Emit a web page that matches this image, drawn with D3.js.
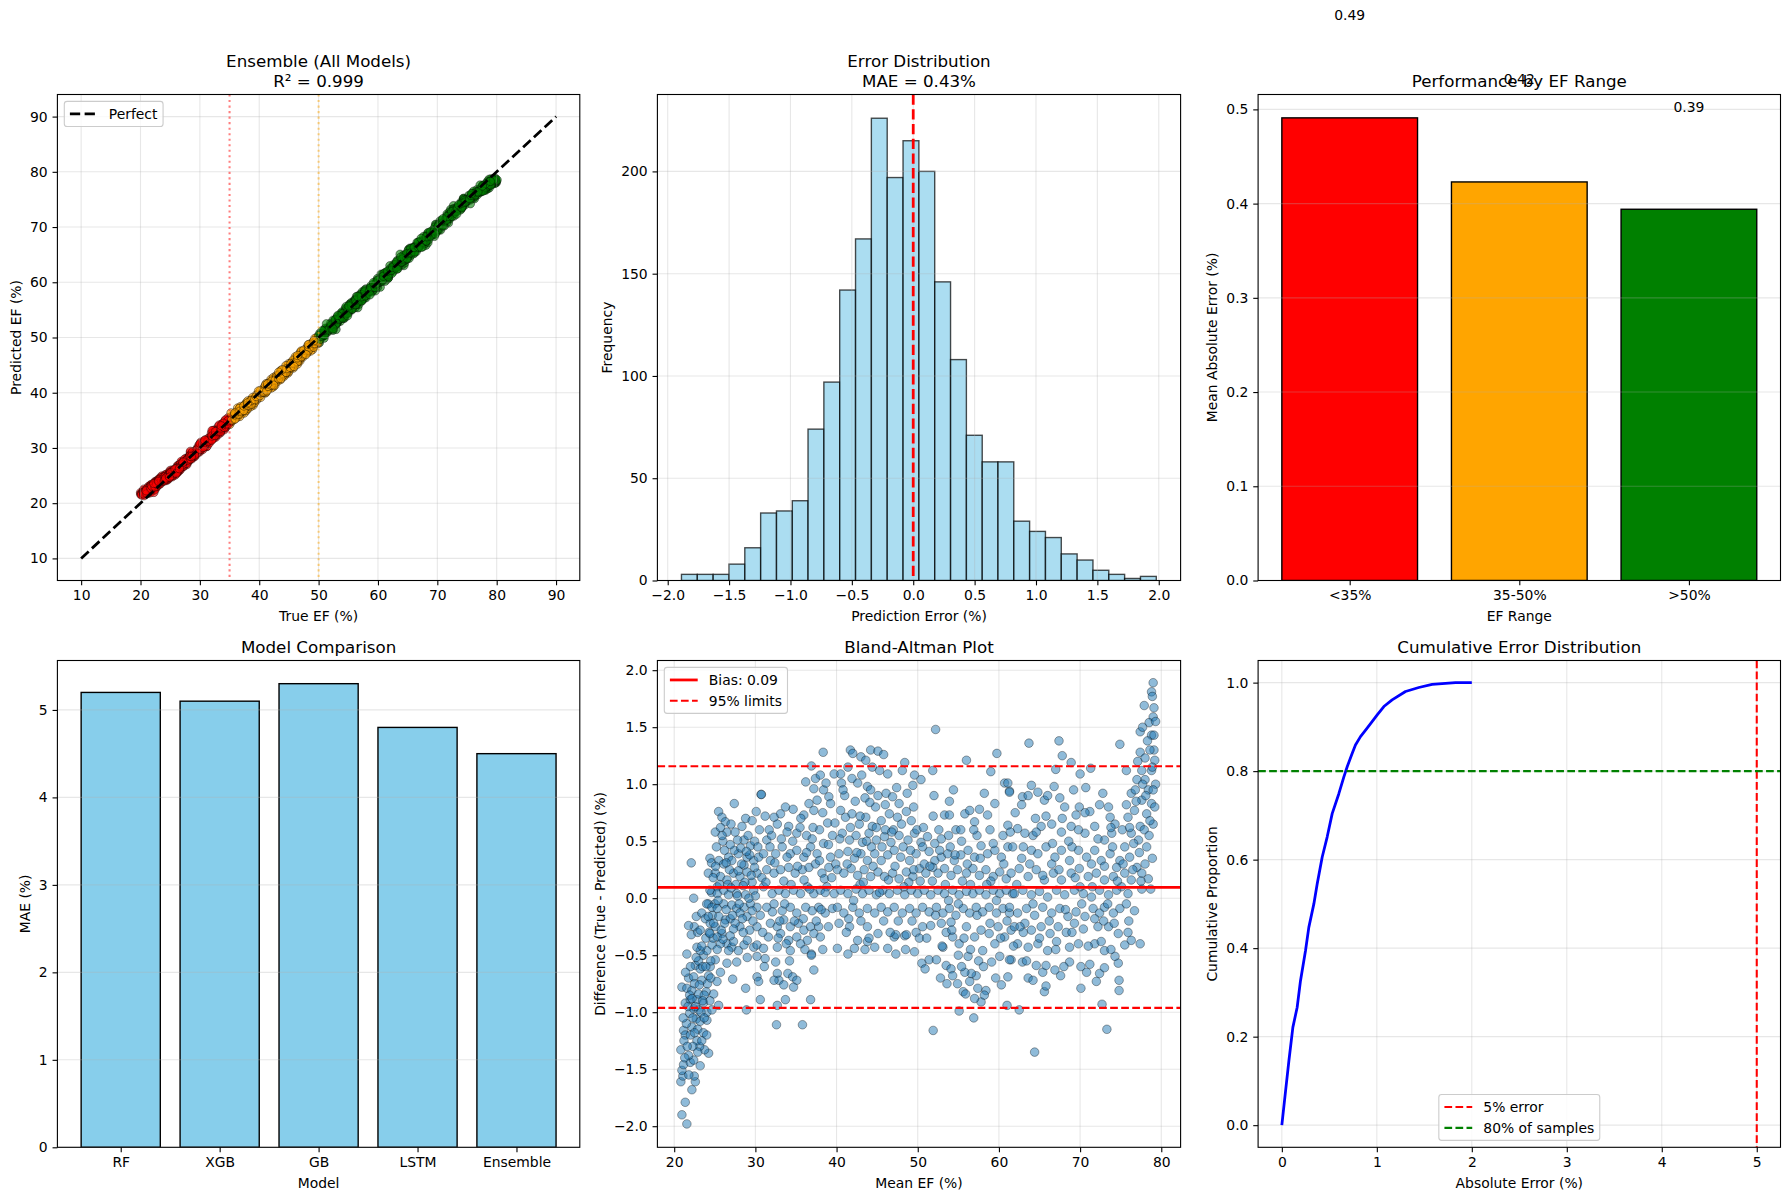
<!DOCTYPE html>
<html><head><meta charset="utf-8">
<script src="https://cdn.jsdelivr.net/npm/d3@7"></script>
<style>body{margin:0;background:#fff}svg{display:block}</style>
</head><body><svg id="c" width="1790" height="1199"></svg>
<script>
// ---------------- DATA ----------------
// Bland-Altman points: [mean EF, difference (true - predicted)]
const baPoints = [
[21.56,-1.98],[20.95,-1.90],[21.36,-1.79],[22.18,-1.68],[20.82,-1.61],[22.6,-1.61],[22.47,-1.56],[21.07,-1.56],[20.95,-1.51],[21.15,-1.46],[23.2,-1.47],[21.98,-1.44],[22.4,-1.42],[24.24,-1.36],[20.82,-1.33],[21.77,-1.38],[23.74,-1.33],[23.13,-1.30],[22.8,-1.25],[23.4,-1.25],[21.15,-1.16],[21.36,-1.20],[22.18,-1.13],[22.72,-1.06],[23.2,-1.08],[24.03,-1.07],[21.9,-1.01],[22.4,-0.97],[23.0,-0.98],[24.03,-1.0],[24.65,-0.98],[21.36,-0.92],[21.98,-0.89],[22.8,-0.89],[23.6,-0.92],[25.47,-0.94],[20.95,-0.78],[21.56,-0.79],[22.18,-0.81],[23.0,-0.84],[23.95,-0.82],[24.86,-0.84],[21.77,-0.70],[22.4,-0.69],[23.4,-0.72],[24.24,-0.68],[25.27,-0.73],[22.6,-0.59],[23.2,-0.62],[24.44,-0.60],[25.06,-0.54],[26.5,-0.57],[25.7,-0.65],[21.56,-0.49],[23.6,-0.50],[24.03,-0.46],[24.65,-0.41],[23.2,-0.46],[22.8,-0.43],[22.1,-0.32],[22.47,-0.25],[21.77,-0.24],[22.72,-0.16],[23.4,-0.13],[23.83,-0.18],[24.44,-0.22],[25.06,-0.25],[25.88,-0.31],[26.5,-0.40],[27.1,-0.43],[27.3,-0.38],[27.9,-0.46],[28.6,-0.41],[29.8,-0.43],[28.1,-0.25],[29.3,-0.28],[30.2,-0.25],[22.1,0.31],[22.4,0.0],
[21.2,-1.25],[21.5,-1.1],[21.7,-0.95],[22.0,-1.2],[22.3,-1.05],[22.6,-0.95],[22.9,-1.15],[23.3,-1.0],[23.7,-0.85],[24.1,-0.75],[24.4,-0.9],[22.0,-0.6],[22.5,-0.75],[23.0,-0.55],[23.5,-0.6],[23.9,-0.35],[24.3,-0.3],[24.7,-0.15],[25.0,-0.05],[24.6,0.05],[25.3,0.1],[22.9,-0.3],[23.2,-0.28],[21.9,-0.85],[21.3,-1.4],[21.8,-1.55],[22.3,-1.3],[23.6,-1.18],[24.0,-1.2],[24.5,-0.55],
[21.1,-1.05],[21.4,-0.65],[21.6,-1.3],[22.2,-0.88],[22.5,-1.18],[22.7,-0.52],[23.1,-0.76],[23.4,-0.42],[23.7,-1.05],[23.9,-0.6],[24.2,-0.05],[24.5,-0.7],[24.8,-0.35],[22.9,-1.35],[23.5,-0.9],
[25.47,0.76],[25.88,0.71],[26.3,0.67],[27.0,0.65],[27.4,0.83],[25.06,0.58],[26.5,0.58],[28.35,0.63],[28.8,0.70],[29.6,0.68],[30.1,0.76],[30.7,0.91],[28.6,0.51],[29.4,0.46],[27.8,0.51],[24.4,0.35],[24.6,0.31],[25.5,0.33],[26.1,0.30],[26.7,0.36],[27.1,0.33],[27.9,0.39],[28.97,0.36],[28.6,0.29],[29.8,0.33],[30.4,0.36],[24.2,0.22],[25.06,0.22],[25.7,0.19],[26.5,0.16],[27.3,0.22],[28.1,0.19],[28.97,0.23],[29.6,0.14],[30.2,0.22],[24.4,0.07],[25.3,0.04],[26.1,0.07],[26.7,0.03],[27.7,0.04],[28.8,0.03],[29.8,0.07],[24.0,-0.05],[24.65,-0.08],[25.3,-0.09],[26.1,-0.05],[27.1,-0.06],[27.7,-0.09],[28.6,-0.08],[29.4,-0.05],[30.2,-0.08],[24.2,-0.16],[24.86,-0.22],[25.5,-0.16],[26.3,-0.19],[26.9,-0.18],[27.5,-0.22],[28.97,-0.16],[28.1,-0.13],[24.4,-0.31],[25.3,-0.34],[25.7,-0.40],[26.7,-0.46],[29.0,-0.37],[30.2,-0.41],[31.0,-0.44],[28.8,-0.79],[28.9,-0.98],[27.2,-0.71],[27.7,-0.56],[30.2,-0.51],[30.6,-0.89],
[25.2,0.45],[26.0,0.5],[26.8,0.25],[27.6,0.12],[28.3,0.3],[29.1,0.55],[29.9,0.5],[25.8,-0.28],[26.4,-0.1],[27.4,0.42],[28.5,-0.3],[29.5,0.2],[30.0,0.02],[26.2,0.42],[27.9,0.24],[29.2,0.0],[25.6,0.12],[28.0,-0.05],[26.9,-0.33],[29.7,-0.2],
[25.1,0.28],[25.4,-0.02],[25.9,0.55],[26.2,-0.22],[26.6,0.12],[26.9,0.47],[27.2,-0.15],[27.5,0.58],[27.8,0.02],[28.2,0.44],[28.4,-0.18],[28.7,0.14],[29.0,-0.52],[29.3,0.38],[29.6,-0.11],[29.9,0.27],[25.3,-0.45],[26.0,-0.36],[27.0,0.09],[28.9,0.41],[24.8,0.18],[25.7,0.62],[26.4,0.31],[27.3,-0.27],[28.5,0.11],
[30.74,0.91],[33.1,0.74],[32.3,0.71],[31.4,0.51],[32.7,0.65],[33.7,0.80],[34.1,0.63],[34.65,0.78],[35.1,0.57],[35.97,0.73],[36.6,0.83],[37.2,0.77],[38.35,1.28],[36.9,1.16],[37.4,1.05],[38.0,1.08],[36.2,1.02],[38.4,0.95],[39.05,0.89],[39.26,0.83],[39.7,1.09],[37.2,0.96],[38.7,1.01],[37.6,0.86],
[31.0,0.39],[31.85,0.33],[32.5,0.39],[33.3,0.45],[34.3,0.39],[35.1,0.42],[35.97,0.36],[36.8,0.45],[37.6,0.39],[38.4,0.48],[39.26,0.36],[31.4,0.25],[32.3,0.22],[33.1,0.25],[34.1,0.27],[34.9,0.22],[35.8,0.25],[36.6,0.27],[37.4,0.30],[38.2,0.22],[39.05,0.27],[39.9,0.30],[31.0,0.10],[32.06,0.04],[32.9,0.07],[33.7,0.04],[34.7,0.07],[35.56,0.04],[36.4,0.10],[37.2,0.04],[38.0,0.07],[38.8,0.10],[39.7,0.04],[31.4,-0.08],[32.3,-0.05],[33.3,-0.11],[34.3,-0.08],[35.1,-0.13],[36.2,-0.08],[37.0,-0.11],[37.8,-0.08],[38.6,-0.13],[39.5,-0.09],[31.85,-0.22],[32.7,-0.25],[33.5,-0.19],[34.3,-0.25],[35.3,-0.22],[35.97,-0.28],[36.8,-0.25],[37.8,-0.25],[31.6,-0.34],[33.1,-0.31],[34.1,-0.37],[35.1,-0.34],[36.4,-0.37],[37.2,-0.31],[38.0,-0.34],[32.7,-0.43],[34.3,-0.46],[35.56,-0.40],[36.9,-0.49],
[32.5,-0.56],[32.7,-0.66],[32.9,-0.72],[32.3,-0.72],[33.5,-0.76],[34.0,-0.66],[34.6,-0.69],[35.1,-0.72],[34.7,-0.78],[33.7,-0.89],[32.7,-0.94],[32.6,-1.11],[35.8,-1.11],[30.2,-0.69],[30.4,-0.73],[31.2,-0.53],[36.8,-0.89],[37.2,-0.63],[36.9,-0.50],
[30.5,0.6],[31.2,0.72],[32.0,0.55],[33.9,0.58],[35.5,0.62],[36.3,0.55],[37.9,0.6],[38.9,0.66],[39.5,0.55],[30.8,0.18],[33.5,0.15],[36.0,0.16],[38.5,0.17],[31.8,0.45],[34.6,0.5],[37.0,0.52],[39.0,-0.25],[38.3,-0.45],[30.6,-0.15],[33.0,-0.2],
[30.3,0.45],[30.9,-0.3],[31.3,0.14],[31.7,0.6],[32.1,-0.12],[32.4,0.31],[32.8,-0.35],[33.2,0.52],[33.6,-0.05],[33.9,0.36],[34.4,0.12],[34.8,-0.2],[35.2,0.28],[35.6,0.7],[35.9,-0.18],[36.3,0.4],[36.7,0.08],[37.1,0.62],[37.5,-0.2],[37.9,0.33],[38.3,0.75],[38.6,0.05],[39.0,0.47],[39.4,0.18],[39.8,0.66],[34.2,-0.55],[36.1,-0.45],[38.1,-0.1],[31.1,-0.6],[33.8,-0.4],
[52.2,1.48],[41.7,1.30],[42.0,1.27],[43.0,1.24],[44.2,1.30],[45.1,1.29],[45.8,1.26],[43.6,1.21],[44.4,1.15],[41.4,1.15],[40.5,1.09],[40.6,1.01],[42.6,1.01],[43.8,0.98],[44.2,0.95],[48.4,1.19],[48.1,1.12],[49.6,1.08],[50.4,1.04],[49.4,0.99],[51.85,1.12],[56.0,1.21],[59.75,1.27],[59.0,1.11],[60.7,1.01],[61.3,0.94],[46.3,1.09],[45.1,0.90],[46.1,0.92],[46.9,0.89],[47.7,0.83],[53.9,0.85],[53.3,0.73],[53.9,0.73],[55.8,0.74],[56.4,0.77],[57.6,0.78],[58.6,0.73],[57.0,0.67],[59.5,0.83],[61.1,0.64],[54.7,0.60],[55.3,0.60],
[40.5,0.77],[41.1,0.71],[41.9,0.74],[42.8,0.65],[43.6,0.71],[44.4,0.63],[45.5,0.68],[46.5,0.74],[47.5,0.71],[48.6,0.76],[49.2,0.68],[40.7,0.57],[41.6,0.51],[42.4,0.55],[43.2,0.49],[44.0,0.57],[44.9,0.51],[45.9,0.54],[46.7,0.49],[47.7,0.55],[48.8,0.51],[49.6,0.57],[50.4,0.49],[51.2,0.54],[52.1,0.48],[52.9,0.52],
[40.3,0.39],[41.4,0.41],[42.2,0.35],[43.0,0.39],[43.8,0.33],[44.7,0.39],[45.5,0.33],[46.3,0.38],[47.1,0.42],[47.9,0.36],[49.0,0.33],[49.8,0.39],[50.6,0.45],[51.4,0.41],[52.1,0.33],[52.9,0.36],[53.7,0.39],[54.5,0.33],[55.3,0.38],[56.2,0.42],[57.0,0.36],[57.8,0.46],[58.6,0.39],[59.5,0.42],[60.3,0.36],[61.1,0.45],
[40.1,0.25],[40.9,0.22],[41.8,0.26],[42.6,0.20],[43.4,0.25],[44.2,0.19],[45.1,0.23],[45.9,0.19],[46.9,0.22],[47.7,0.17],[48.6,0.23],[49.4,0.19],[50.2,0.26],[51.0,0.22],[51.85,0.27],[52.5,0.22],[53.3,0.26],[54.1,0.20],[54.9,0.25],[56.0,0.22],[56.8,0.26],[57.6,0.20],[58.4,0.25],[59.3,0.19],[60.1,0.23],[60.9,0.17],
[40.5,0.07],[41.4,0.04],[42.4,0.08],[43.2,0.04],[44.0,0.07],[44.9,0.03],[45.7,0.07],[46.5,0.04],[47.5,0.07],[48.4,0.03],[49.2,0.07],[50.0,0.04],[50.8,0.07],[51.6,0.03],[52.5,0.07],[53.3,0.04],[54.3,0.07],[55.1,0.03],[56.0,0.06],[56.8,0.04],[57.6,0.07],[58.4,0.03],[59.3,0.07],[60.1,0.04],[60.9,0.07],[61.7,0.04],
[40.1,-0.08],[40.9,-0.13],[42.0,-0.08],[42.8,-0.13],[43.8,-0.09],[44.7,-0.13],[45.5,-0.08],[46.3,-0.12],[47.1,-0.08],[48.1,-0.13],[49.0,-0.09],[49.8,-0.13],[50.6,-0.08],[51.4,-0.12],[52.3,-0.08],[53.1,-0.13],[53.9,-0.09],[54.7,-0.15],[55.6,-0.09],[56.4,-0.13],[57.2,-0.08],[58.0,-0.12],[58.8,-0.08],[59.7,-0.13],[60.5,-0.09],[61.3,-0.13],
[40.3,-0.22],[41.6,-0.25],[43.8,-0.25],[45.1,-0.31],[47.1,-0.34],[47.3,-0.32],[48.4,-0.33],[49.8,-0.30],[50.6,-0.25],[51.6,-0.24],[52.9,-0.22],[54.1,-0.21],[54.3,-0.34],[55.1,-0.40],[56.0,-0.25],[57.0,-0.34],[57.8,-0.28],[58.8,-0.31],[59.9,-0.25],[60.7,-0.34],[61.5,-0.28],
[40.1,-0.44],[42.2,-0.44],[44.7,-0.43],[46.3,-0.44],[47.3,-0.49],[41.4,-0.49],[42.6,-0.37],[43.8,-0.38],[48.6,-0.32],
[49.6,-0.47],[50.5,-0.57],[51.4,-0.54],[52.3,-0.54],[53.1,-0.43],[53.5,-0.59],[54.1,-0.62],[54.3,-0.68],[54.9,-0.75],[55.6,-0.82],[55.9,-0.84],[55.1,-0.99],[56.9,-1.05],[51.9,-1.16],[52.8,-0.70],[56.4,-0.73],[57.2,-0.68],[57.4,-0.79],[57.8,-0.91],[58.4,-0.81],[58.2,-0.85],[60.3,-0.76],[61.0,-0.94],[61.1,-0.69],[58.0,-0.46],[59.1,-0.56],[60.1,-0.51],[61.5,-0.54],[56.2,-0.51],[56.6,-0.66],[55.8,-0.65],
[41.0,0.9],[42.3,0.85],[43.5,0.88],[44.8,0.8],[47.0,0.6],[48.2,0.45],[49.5,0.8],[50.8,0.3],[52.6,0.6],[54.0,0.45],[55.5,0.15],[57.3,0.55],[58.9,0.6],[60.5,0.55],[41.2,-0.3],[43.0,-0.2],[45.8,-0.2],[50.2,-0.35],[53.5,-0.3],[55.0,-0.5],[57.5,-0.55],[59.5,-0.4],[46.0,0.6],[44.3,0.45],[51.8,0.15],[53.8,-0.02],[56.5,0.12],[59.0,0.15],[42.9,0.12],[48.9,0.14],
[40.4,0.52],[40.8,0.95],[41.3,0.3],[41.7,0.62],[42.1,-0.02],[42.5,0.4],[42.9,0.72],[43.3,0.14],[43.7,0.5],[44.1,0.84],[44.5,0.28],[44.9,0.62],[45.3,0.05],[45.6,0.45],[46.0,0.82],[46.4,0.16],[46.8,0.58],[47.2,0.28],[47.6,-0.2],[48.0,0.65],[48.3,0.1],[48.7,0.92],[49.1,0.42],[49.5,0.25],[49.9,0.6],[41.9,1.05],[43.1,1.08],[45.3,1.12],[47.4,0.97],[44.0,-0.35],[46.6,-0.3],[48.5,-0.45],[41.5,-0.18],[43.5,-0.45],[49.3,-0.2],
[50.3,0.15],[50.7,0.62],[51.1,-0.35],[51.5,0.28],[51.9,0.72],[52.2,-0.15],[52.7,0.42],[53.0,-0.42],[53.4,0.12],[53.8,0.55],[54.2,-0.28],[54.6,0.38],[55.0,-0.05],[55.4,0.5],[55.7,-0.35],[56.1,0.3],[56.5,-0.45],[56.9,0.6],[57.3,-0.15],[57.7,0.35],[58.1,-0.6],[58.5,0.12],[58.9,-0.22],[59.3,0.48],[59.7,-0.02],[50.9,-0.62],[53.6,-0.75],[55.4,-0.6],[57.0,-0.88],[59.6,-0.7],[52.0,0.9],[54.4,0.95],[58.2,0.92],
[79.0,1.89],[78.8,1.81],[78.9,1.77],[79.1,1.67],[77.9,1.69],[79.0,1.59],[78.5,1.54],[77.4,1.46],[77.7,1.50],[78.8,1.43],[79.1,1.43],[74.9,1.35],[67.4,1.38],[63.7,1.36],[67.8,1.25],[68.9,1.19],[67.0,1.13],[71.3,1.14],[70.0,1.09],[70.7,0.97],[77.4,1.28],[78.0,1.23],[79.2,1.21],[79.1,1.30],[77.6,1.12],[78.8,1.12],[75.7,1.12],[78.0,1.04],[77.0,1.04],[78.4,0.95],[76.3,0.92],[77.6,0.86],[78.8,0.83],[75.7,0.82],[76.7,0.77],[78.2,0.74],[79.0,0.65],[75.9,0.71],[77.4,0.63],[76.3,0.57],[77.2,0.51],[78.2,0.45],[75.5,0.45],[74.9,0.33],[76.1,0.36],[77.0,0.27],[77.6,0.22],[78.4,0.17],[78.7,0.08],[77.6,0.08],[76.3,0.16],[75.5,0.22],[75.1,0.10],[75.9,0.04],[76.7,-0.11],[77.4,-0.40],[76.3,-0.37],[75.5,-0.41],[74.8,-0.72],[74.8,-0.81],[73.3,-1.15],[72.7,-0.93],[64.4,-1.35],[62.5,-0.98],[70.1,-0.79],[70.1,-0.60],[70.8,-0.65],[72.0,-0.73],[72.4,-0.66],[73.0,-0.61],[74.3,-0.51],[74.7,-0.57],[65.6,-0.82],[65.8,-0.77],[63.6,-0.70],
[61.1,1.01],[61.3,0.93],[62.9,0.89],[63.6,0.90],[64.0,0.99],[64.8,0.93],[65.6,0.86],[67.5,0.88],[68.1,0.80],[69.5,0.73],[69.9,0.80],[71.2,0.76],[72.4,0.82],[73.7,0.71],[74.3,0.65],[62.3,0.61],[63.2,0.57],[64.2,0.55],[65.2,0.63],[66.5,0.65],[67.7,0.58],[68.9,0.63],[70.6,0.57],[71.8,0.63],[73.0,0.51],[73.9,0.57],[61.7,0.45],[62.8,0.35],[64.0,0.42],[64.8,0.39],[65.8,0.45],[66.9,0.36],[67.7,0.42],[68.7,0.33],[69.8,0.42],[70.8,0.36],[71.8,0.42],[72.6,0.33],[73.7,0.39],[74.5,0.27],[61.5,0.22],[62.5,0.26],[63.6,0.19],[64.6,0.25],[65.6,0.16],[66.7,0.22],[67.7,0.16],[68.9,0.22],[69.9,0.26],[71.0,0.19],[72.0,0.22],[73.0,0.16],[74.1,0.19],[61.9,0.04],[62.95,0.07],[64.0,0.03],[65.0,0.06],[66.0,0.01],[67.1,0.07],[68.1,0.03],[69.3,0.07],[70.4,0.04],[71.4,0.01],[72.4,0.07],[73.5,0.03],[74.5,0.07],[61.3,-0.08],[62.3,-0.13],[63.4,-0.09],[64.4,-0.15],[65.4,-0.08],[66.5,-0.13],[67.5,-0.09],[68.5,-0.16],[69.5,-0.12],[70.6,-0.16],[71.6,-0.09],[72.4,-0.13],[73.0,-0.08],[74.1,-0.13],[74.9,-0.09],[61.9,-0.25],[63.2,-0.22],[64.0,-0.28],[65.2,-0.25],[66.3,-0.31],[67.3,-0.25],[68.3,-0.30],[69.3,-0.22],[70.4,-0.27],[72.2,-0.25],[73.5,-0.25],[74.7,-0.31],[62.3,-0.40],[63.6,-0.43],[64.8,-0.40],[66.0,-0.46],[67.1,-0.38],[68.7,-0.43],[71.8,-0.40],[73.0,-0.46],[61.3,-0.54],[62.9,-0.56],[64.6,-0.59],[65.4,-0.65],[65.8,-0.59],[66.9,-0.63],[68.7,-0.56],
[76.8,0.95],[77.9,0.6],[78.6,1.3],[79.3,1.0],[78.9,0.35],[76.0,-0.2],[75.2,0.6],[62.0,0.75],[66.0,0.9],[69.0,0.45],[71.5,0.1],[73.5,0.8],[63.0,-0.3],[69.8,-0.4],[72.9,-0.2],[66.5,0.3],[70.0,0.1],[64.5,0.7],[68.0,-0.6],[74.0,0.45],
[60.2,-0.35],[60.6,0.3],[61.0,-0.2],[61.4,0.58],[61.8,-0.42],[62.2,0.12],[62.6,-0.25],[63.0,0.45],[63.4,-0.55],[63.8,0.3],[64.2,-0.05],[64.6,0.58],[65.0,-0.35],[65.4,0.2],[65.8,0.72],[66.2,-0.2],[66.6,0.48],[67.0,-0.45],[67.4,0.25],[67.8,0.7],[68.2,-0.1],[68.6,0.5],[69.0,-0.3],[69.4,0.18],[69.8,0.6],[70.2,-0.05],[70.6,0.75],[71.0,-0.42],[71.4,0.3],[71.8,-0.18],[72.2,0.52],[72.6,-0.38],[73.0,0.28],[73.4,-0.05],[73.8,0.62],[74.2,-0.22],[74.6,0.15],[62.8,0.82],[66.8,0.98],[69.2,0.95],[72.8,0.92],[64.2,-0.72],[67.6,-0.68],[71.2,-0.58],[73.8,-0.45],
[75.3,0.3],[75.7,-0.05],[76.1,0.62],[76.5,0.25],[76.9,0.85],[77.3,0.4],[77.7,1.0],[78.1,0.9],[78.5,0.55],[78.9,1.15],[79.2,0.8],[79.3,1.55],[78.3,1.38],[77.1,1.2],[76.6,0.48],[75.9,-0.3],[78.0,0.3],[79.0,0.95],[78.6,0.68],[77.5,0.15]
];
const perfectLine = [10, 90];
const efThresholds = [35, 50];
const efThresholdColors = ['red', 'orange'];
const efTicks = [10,20,30,40,50,60,70,80,90];

const histEdges = [-1.888,-1.759,-1.630,-1.501,-1.372,-1.243,-1.114,-0.985,-0.857,-0.728,-0.599,-0.470,-0.341,-0.212,-0.083,0.046,0.175,0.304,0.433,0.562,0.690,0.819,0.948,1.077,1.206,1.335,1.464,1.593,1.722,1.851,1.980];
const histCounts = [3,3,3,8,16,33,34,39,74,97,142,167,226,197,215,200,146,108,71,58,58,29,24,21,13,10,5,3,1,2];
const histXTicks = [-2,-1.5,-1,-0.5,0,0.5,1,1.5,2];
const histYTicks = [0,50,100,150,200];

const efRanges = ['<35%','35-50%','>50%'];
const efRangeMAE = [0.491,0.423,0.394];
const efRangeColors = ['red','orange','green'];
const rangeYTicks = [0,0.1,0.2,0.3,0.4,0.5];

const models = ['RF','XGB','GB','LSTM','Ensemble'];
const modelMAE = [5.2,5.1,5.3,4.8,4.5];
const maeTicks = [0,1,2,3,4,5];

const baBias = 0.094, baUpper = 1.158, baLower = -0.962;
const baXTicks = [20,30,40,50,60,70,80];
const baYTicks = [-2,-1.5,-1,-0.5,0,0.5,1,1.5,2];

const cdfX = [0,0.039,0.074,0.116,0.161,0.196,0.249,0.284,0.337,0.372,0.425,0.477,0.53,0.6,0.653,0.688,0.74,0.775,0.828,0.898,1.004,1.074,1.161,1.302,1.442,1.582,1.828,2.0];
const cdfY = [0,0.077,0.145,0.221,0.266,0.326,0.394,0.447,0.5,0.545,0.606,0.651,0.704,0.749,0.787,0.81,0.84,0.859,0.878,0.897,0.927,0.946,0.961,0.98,0.989,0.996,1.0,1.0];
const cdfXTicks = [0,1,2,3,4,5];
const cdfYTicks = [0,0.2,0.4,0.6,0.8,1.0];
const errorThreshold = 5, sampleThreshold = 0.8;

// ---------------- LAYOUT ----------------
const FONT = 'DejaVu Sans', FS = 13.9, TFS = 16.7;
const COLS = [[57.4,579.8],[657.4,1180.6],[1258.1,1780.5]];
const ROWS = [[94.5,580.5],[660.5,1147.3]];
const svg = d3.select('#c').attr('font-family', FONT);
const defs = svg.append('defs');
let clipN = 0;
const PT = 1.389;
const dash = lw => `${3.7*lw*PT},${1.6*lw*PT}`;
const dot = lw => `${1*lw*PT},${1.65*lw*PT}`;

function panel(col,row,o){
  const [x0,x1]=COLS[col],[y0,y1]=ROWS[row];
  const x=d3.scaleLinear().domain(o.xd).range([x0,x1]);
  const y=d3.scaleLinear().domain(o.yd).range([y1,y0]);
  const id='clip'+(clipN++);
  defs.append('clipPath').attr('id',id).append('rect').attr('x',x0).attr('y',y0).attr('width',x1-x0).attr('height',y1-y0);
  const g=svg.append('g');
  const dataL=g.append('g').attr('clip-path',`url(#${id})`);
  const gridL=g.append('g');
  const lineL=g.append('g').attr('clip-path',`url(#${id})`);
  if(o.gridX!==false) o.xt.forEach(v=>gridL.append('line').attr('x1',x(v)).attr('x2',x(v)).attr('y1',y0).attr('y2',y1));
  o.yt.forEach(v=>gridL.append('line').attr('x1',x0).attr('x2',x1).attr('y1',y(v)).attr('y2',y(v)));
  gridL.selectAll('line').attr('stroke','#b0b0b0').attr('stroke-opacity',0.3).attr('stroke-width',1.1);
  const top=g.append('g');
  top.append('rect').attr('x',x0).attr('y',y0).attr('width',x1-x0).attr('height',y1-y0)
    .attr('fill','none').attr('stroke','#000').attr('stroke-width',1.1);
  const ax=top.append('g').attr('transform',`translate(0,${y1})`)
    .call(d3.axisBottom(x).tickValues(o.xt).tickFormat(o.xf).tickSize(4.86).tickPadding(4.86));
  const ay=top.append('g').attr('transform',`translate(${x0},0)`)
    .call(d3.axisLeft(y).tickValues(o.yt).tickFormat(o.yf).tickSize(4.86).tickPadding(4.86));
  [ax,ay].forEach(a=>{
    a.select('.domain').remove();
    a.attr('font-family',FONT).attr('font-size',FS);
    a.selectAll('line').attr('stroke','#000').attr('stroke-width',1.1);
    a.selectAll('text').attr('fill','#000');
  });
  let maxW=0; ay.selectAll('text').each(function(){maxW=Math.max(maxW,this.getComputedTextLength());});
  top.append('text').attr('x',(x0+x1)/2).attr('y',y1+35.5).attr('dy','0.35em')
    .attr('text-anchor','middle').attr('font-size',FS).text(o.xlabel);
  top.append('text').attr('transform',`translate(${x0-maxW-23.5},${(y0+y1)/2}) rotate(-90)`)
    .attr('dy','0.35em').attr('text-anchor','middle').attr('font-size',FS).text(o.ylabel);
  o.title.forEach((t,i,a)=>top.append('text').attr('x',(x0+x1)/2).attr('y',y0-7.5-(a.length-1-i)*20.5)
    .attr('text-anchor','middle').attr('font-size',TFS).text(t));
  return {x,y,dataL,lineL,top,x0,x1,y0,y1};
}

function legend(p,items,pos){
  const g=p.top.append('g');
  const rowH=20.85, pad=5.6;
  const h=2*pad+items.length*FS+(items.length-1)*6.95;
  const texts=[];
  const tg=g.append('g');
  items.forEach((it,i)=>{
    const t=tg.append('text').attr('font-size',FS).attr('dy','0.35em').text(it.label);
    texts.push(t);
  });
  let tw=0; texts.forEach(t=>tw=Math.max(tw,t.node().getComputedTextLength()));
  const w=44.5+tw+pad;
  let bx,by;
  if(pos==='ul'){bx=p.x0+6.9;by=p.y0+6.9;}
  else {bx=(p.x0+p.x1)/2-w/2;by=p.y1-6.9-h;}
  g.insert('rect',':first-child').attr('x',bx).attr('y',by).attr('width',w).attr('height',h).attr('rx',2.8)
    .attr('fill','#fff').attr('fill-opacity',0.8).attr('stroke','#cccccc').attr('stroke-width',1.1);
  items.forEach((it,i)=>{
    const cy=by+pad+FS/2+i*rowH;
    g.append('line').attr('x1',bx+pad).attr('x2',bx+pad+27.8).attr('y1',cy).attr('y2',cy)
      .attr('stroke',it.color).attr('stroke-width',it.lw*PT).attr('stroke-dasharray',it.dash||null);
    texts[i].attr('x',bx+44.5).attr('y',cy);
  });
}

// ---------- Panel 1: Predicted vs True ----------
{
  const p=panel(0,0,{xd:[6,94],yd:[6,94],xt:efTicks,yt:efTicks,xf:d3.format('d'),yf:d3.format('d'),
    xlabel:'True EF (%)',ylabel:'Predicted EF (%)',title:['Ensemble (All Models)','R\u00b2 = 0.999']});
  const pts=baPoints.map(([m,d])=>({t:m+d/2,p:m-d/2}));
  const col=t=>t<efThresholds[0]?efRangeColors[0]:(t<efThresholds[1]?efRangeColors[1]:efRangeColors[2]);
  p.dataL.selectAll('circle').data(pts).join('circle')
    .attr('cx',d=>p.x(d.t)).attr('cy',d=>p.y(d.p)).attr('r',4.2)
    .attr('fill',d=>col(d.t)).attr('fill-opacity',0.6)
    .attr('stroke','#000').attr('stroke-opacity',0.6).attr('stroke-width',0.69);
  efThresholds.forEach((v,i)=>p.lineL.append('line').attr('x1',p.x(v)).attr('x2',p.x(v)).attr('y1',p.y0).attr('y2',p.y1)
    .attr('stroke',efThresholdColors[i]).attr('stroke-opacity',0.5).attr('stroke-width',1.5*PT).attr('stroke-dasharray',dot(1.5)));
  p.lineL.append('path').attr('d',d3.line().x(v=>p.x(v)).y(v=>p.y(v))(perfectLine))
    .attr('stroke','#000').attr('stroke-width',2*PT).attr('fill','none').attr('stroke-dasharray',dash(2));
  legend(p,[{label:'Perfect',color:'#000',lw:2,dash:dash(2)}],'ul');
}

// ---------- Panel 2: Error histogram ----------
{
  const p=panel(1,0,{xd:[-2.084,2.178],yd:[0,237.6],xt:histXTicks,yt:histYTicks,xf:d3.format('.1f'),yf:d3.format('d'),
    xlabel:'Prediction Error (%)',ylabel:'Frequency',title:['Error Distribution','MAE = 0.43%']});
  p.dataL.selectAll('rect').data(histCounts).join('rect')
    .attr('x',(d,i)=>p.x(histEdges[i])).attr('width',(d,i)=>p.x(histEdges[i+1])-p.x(histEdges[i]))
    .attr('y',d=>p.y(d)).attr('height',d=>p.y(0)-p.y(d))
    .attr('fill','#87ceeb').attr('fill-opacity',0.7).attr('stroke','#000').attr('stroke-opacity',0.7).attr('stroke-width',1.39);
  p.lineL.append('line').attr('x1',p.x(0)).attr('x2',p.x(0)).attr('y1',p.y0).attr('y2',p.y1)
    .attr('stroke','red').attr('stroke-width',2*PT).attr('stroke-dasharray',dash(2));
}

// ---------- Panel 3: Performance by EF range ----------
{
  const p=panel(2,0,{xd:[-0.54,2.54],yd:[0,0.5158],xt:[0,1,2],yt:rangeYTicks,xf:i=>efRanges[i],yf:d3.format('.1f'),gridX:false,
    xlabel:'EF Range',ylabel:'Mean Absolute Error (%)',title:['Performance by EF Range']});
  p.dataL.selectAll('rect').data(efRangeMAE).join('rect')
    .attr('x',(d,i)=>p.x(i-0.4)).attr('width',(d,i)=>p.x(i+0.4)-p.x(i-0.4))
    .attr('y',d=>p.y(d)).attr('height',d=>p.y(0)-p.y(d))
    .attr('fill',(d,i)=>efRangeColors[i]).attr('stroke','#000').attr('stroke-width',1.39);
  p.top.selectAll('text.val').data(efRangeMAE).join('text').attr('class','val')
    .attr('x',(d,i)=>p.x(i)).attr('y',d=>p.y(d+0.1)-3.3).attr('text-anchor','middle').attr('font-size',FS)
    .text(d=>d3.format('.2f')(d));
}

// ---------- Panel 4: Model comparison ----------
{
  const p=panel(0,1,{xd:[-0.64,4.64],yd:[0,5.565],xt:[0,1,2,3,4],yt:maeTicks,xf:i=>models[i],yf:d3.format('d'),gridX:false,
    xlabel:'Model',ylabel:'MAE (%)',title:['Model Comparison']});
  p.dataL.selectAll('rect').data(modelMAE).join('rect')
    .attr('x',(d,i)=>p.x(i-0.4)).attr('width',(d,i)=>p.x(i+0.4)-p.x(i-0.4))
    .attr('y',d=>p.y(d)).attr('height',d=>p.y(0)-p.y(d))
    .attr('fill','#87ceeb').attr('stroke','#000').attr('stroke-width',1.39);
}

// ---------- Panel 5: Bland-Altman ----------
{
  const p=panel(1,1,{xd:[17.93,82.38],yd:[-2.185,2.085],xt:baXTicks,yt:baYTicks,xf:d3.format('d'),yf:d3.format('.1f'),
    xlabel:'Mean EF (%)',ylabel:'Difference (True - Predicted) (%)',title:['Bland-Altman Plot']});
  p.dataL.selectAll('circle').data(baPoints).join('circle')
    .attr('cx',d=>p.x(d[0])).attr('cy',d=>p.y(d[1])).attr('r',4.3)
    .attr('fill','#1f77b4').attr('fill-opacity',0.5)
    .attr('stroke','#000').attr('stroke-opacity',0.5).attr('stroke-width',0.69);
  p.lineL.append('line').attr('x1',p.x0).attr('x2',p.x1).attr('y1',p.y(baBias)).attr('y2',p.y(baBias))
    .attr('stroke','red').attr('stroke-width',2*PT);
  [baUpper,baLower].forEach(v=>p.lineL.append('line').attr('x1',p.x0).attr('x2',p.x1).attr('y1',p.y(v)).attr('y2',p.y(v))
    .attr('stroke','red').attr('stroke-width',1.5*PT).attr('stroke-dasharray',dash(1.5)));
  legend(p,[{label:'Bias: 0.09',color:'red',lw:2},{label:'95% limits',color:'red',lw:1.5,dash:dash(1.5)}],'ul');
}

// ---------- Panel 6: Cumulative error ----------
{
  const p=panel(2,1,{xd:[-0.25,5.25],yd:[-0.05,1.05],xt:cdfXTicks,yt:cdfYTicks,xf:d3.format('d'),yf:d3.format('.1f'),
    xlabel:'Absolute Error (%)',ylabel:'Cumulative Proportion',title:['Cumulative Error Distribution']});
  p.lineL.append('path').attr('d',d3.line().x((d,i)=>p.x(cdfX[i])).y((d,i)=>p.y(cdfY[i]))(cdfX))
    .attr('fill','none').attr('stroke','blue').attr('stroke-width',2*PT).attr('stroke-linejoin','round');
  p.lineL.append('line').attr('x1',p.x(errorThreshold)).attr('x2',p.x(errorThreshold)).attr('y1',p.y0).attr('y2',p.y1)
    .attr('stroke','red').attr('stroke-width',1.5*PT).attr('stroke-dasharray',dash(1.5));
  p.lineL.append('line').attr('x1',p.x0).attr('x2',p.x1).attr('y1',p.y(sampleThreshold)).attr('y2',p.y(sampleThreshold))
    .attr('stroke','green').attr('stroke-width',1.5*PT).attr('stroke-dasharray',dash(1.5));
  legend(p,[{label:'5% error',color:'red',lw:1.5,dash:dash(1.5)},{label:'80% of samples',color:'green',lw:1.5,dash:dash(1.5)}],'lc');
}
</script></body></html>
